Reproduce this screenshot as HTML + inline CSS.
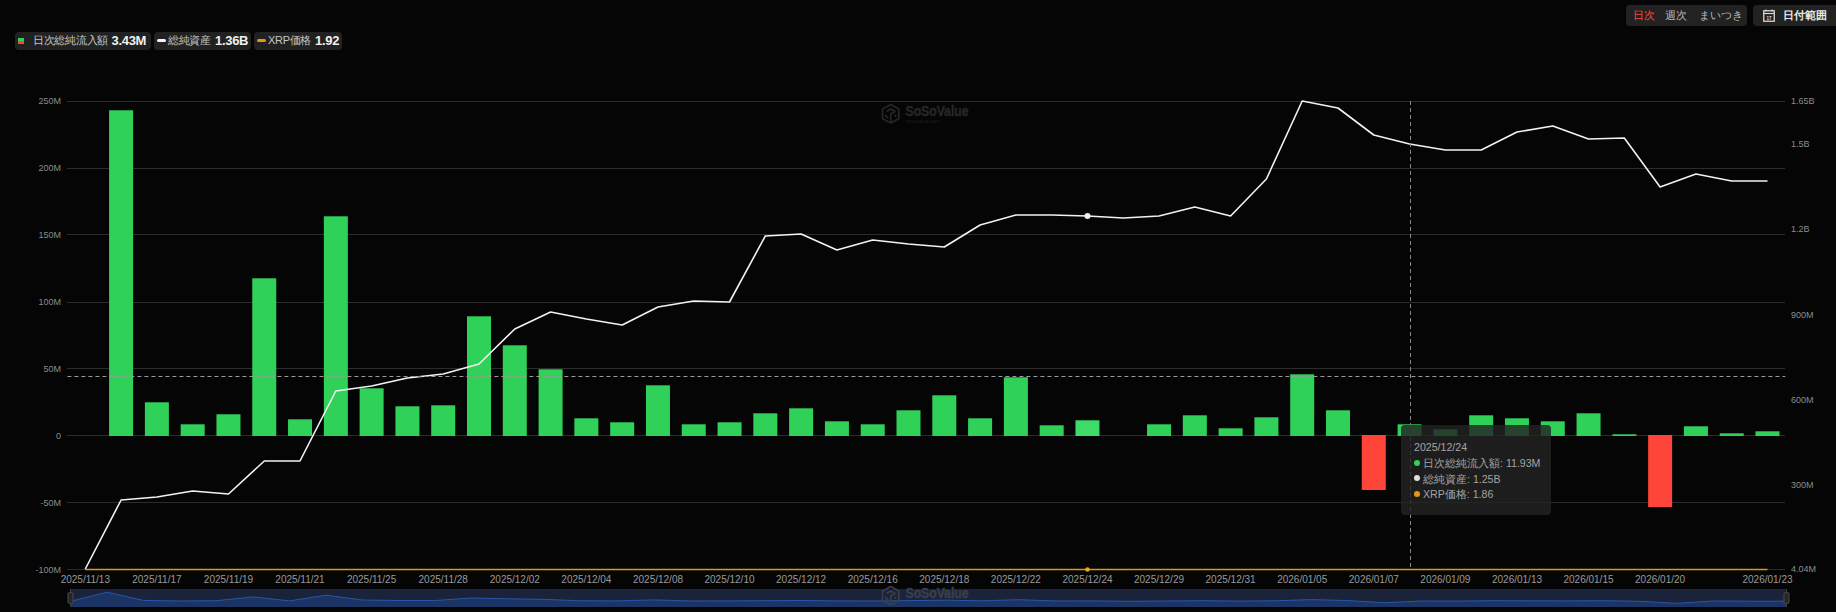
<!DOCTYPE html>
<html><head><meta charset="utf-8">
<style>
html,body{margin:0;padding:0;background:#050505;width:1836px;height:612px;overflow:hidden;position:relative;font-family:"Liberation Sans",sans-serif}
.ax{font-size:9px;fill:#8c8c8c;font-family:"Liberation Sans",sans-serif}
.xl{font-size:10px;fill:#9a9a9a;font-family:"Liberation Sans",sans-serif}
.chip{position:absolute;top:32px;height:18px;background:#212121;border-radius:4px;color:#c4c4c4;font-size:11px;letter-spacing:-0.3px;line-height:17.5px;white-space:nowrap}
.chip b{color:#f0f0f0;font-size:13px;font-weight:bold;position:absolute;top:0;line-height:18px}
.chip span{position:absolute;top:0}
.btn{position:absolute;top:5px;height:21px;background:#222;border-radius:4px;font-size:10.5px;line-height:21px;color:#b8b8b8;white-space:nowrap}
.btn span{position:absolute;top:0}
.tip{position:absolute;left:1401px;top:425px;width:150px;height:89.5px;background:rgba(35,35,35,0.82);border-radius:4px;color:#a4a4a4;font-size:10.6px}
.tip div{position:absolute;white-space:nowrap;line-height:14px}
.dot{position:absolute;width:6px;height:6px;border-radius:3px}
</style></head><body>
<svg width="1836" height="612" viewBox="0 0 1836 612" style="position:absolute;left:0;top:0">
<line x1="67" y1="101.5" x2="1785" y2="101.5" stroke="#2c2c2c" stroke-width="1"/>
<line x1="67" y1="168.5" x2="1785" y2="168.5" stroke="#2c2c2c" stroke-width="1"/>
<line x1="67" y1="234.5" x2="1785" y2="234.5" stroke="#2c2c2c" stroke-width="1"/>
<line x1="67" y1="302.5" x2="1785" y2="302.5" stroke="#2c2c2c" stroke-width="1"/>
<line x1="67" y1="368.5" x2="1785" y2="368.5" stroke="#2c2c2c" stroke-width="1"/>
<line x1="67" y1="435.5" x2="1785" y2="435.5" stroke="#2c2c2c" stroke-width="1"/>
<line x1="67" y1="502.5" x2="1785" y2="502.5" stroke="#2c2c2c" stroke-width="1"/>
<line x1="67" y1="569.5" x2="1785" y2="569.5" stroke="#2c2c2c" stroke-width="1"/>
<text x="61" y="104.3" text-anchor="end" class="ax">250M</text>
<text x="61" y="171.2" text-anchor="end" class="ax">200M</text>
<text x="61" y="238.2" text-anchor="end" class="ax">150M</text>
<text x="61" y="305.1" text-anchor="end" class="ax">100M</text>
<text x="61" y="372.0" text-anchor="end" class="ax">50M</text>
<text x="61" y="438.9" text-anchor="end" class="ax">0</text>
<text x="61" y="505.9" text-anchor="end" class="ax">-50M</text>
<text x="61" y="572.8" text-anchor="end" class="ax">-100M</text>
<text x="1791" y="104.3" class="ax">1.65B</text>
<text x="1791" y="146.9" class="ax">1.5B</text>
<text x="1791" y="232.2" class="ax">1.2B</text>
<text x="1791" y="317.5" class="ax">900M</text>
<text x="1791" y="402.8" class="ax">600M</text>
<text x="1791" y="488.1" class="ax">300M</text>
<text x="1791" y="572.3" class="ax">4.04M</text>
<g fill="none" stroke="#262626" stroke-width="1.7" stroke-linejoin="round"><path d="M890.8 104.5 L898.8 109.1 L898.8 118.7 L890.8 123 L882.5 118.7 L882.5 109.1 Z"/><path d="M886.5 111.5 L890.8 109 L895 111.5 L890.8 114 L890.8 122.5 M886 114.5 L886 116.5 L888.5 118 M895.5 114.5 L895.5 117"/></g>
<text x="905.5" y="116" fill="#262626" stroke="#262626" stroke-width="0.5" textLength="63" lengthAdjust="spacingAndGlyphs" style="font:bold 14px 'Liberation Sans',sans-serif">SoSoValue</text>
<text x="906" y="122.5" fill="#1e1e1e" style="font:5px 'Liberation Sans',sans-serif">sosovalue.com</text>
<rect x="109.09" y="110.3" width="24" height="325.7" fill="#30d158"/>
<rect x="144.88" y="402.3" width="24" height="33.7" fill="#30d158"/>
<rect x="180.67" y="424.3" width="24" height="11.7" fill="#30d158"/>
<rect x="216.46" y="414.3" width="24" height="21.7" fill="#30d158"/>
<rect x="252.25" y="278.3" width="24" height="157.7" fill="#30d158"/>
<rect x="288.05" y="419.3" width="24" height="16.7" fill="#30d158"/>
<rect x="323.84" y="216.3" width="24" height="219.7" fill="#30d158"/>
<rect x="359.63" y="388.3" width="24" height="47.7" fill="#30d158"/>
<rect x="395.42" y="406.3" width="24" height="29.7" fill="#30d158"/>
<rect x="431.21" y="405.3" width="24" height="30.7" fill="#30d158"/>
<rect x="467.00" y="316.3" width="24" height="119.7" fill="#30d158"/>
<rect x="502.80" y="345.3" width="24" height="90.7" fill="#30d158"/>
<rect x="538.59" y="369.3" width="24" height="66.7" fill="#30d158"/>
<rect x="574.38" y="418.3" width="24" height="17.7" fill="#30d158"/>
<rect x="610.17" y="422.3" width="24" height="13.7" fill="#30d158"/>
<rect x="645.96" y="385.3" width="24" height="50.7" fill="#30d158"/>
<rect x="681.75" y="424.3" width="24" height="11.7" fill="#30d158"/>
<rect x="717.55" y="422.3" width="24" height="13.7" fill="#30d158"/>
<rect x="753.34" y="413.3" width="24" height="22.7" fill="#30d158"/>
<rect x="789.13" y="408.3" width="24" height="27.7" fill="#30d158"/>
<rect x="824.92" y="421.3" width="24" height="14.7" fill="#30d158"/>
<rect x="860.71" y="424.3" width="24" height="11.7" fill="#30d158"/>
<rect x="896.50" y="410.3" width="24" height="25.7" fill="#30d158"/>
<rect x="932.30" y="395.3" width="24" height="40.7" fill="#30d158"/>
<rect x="968.09" y="418.3" width="24" height="17.7" fill="#30d158"/>
<rect x="1003.88" y="377.3" width="24" height="58.7" fill="#30d158"/>
<rect x="1039.67" y="425.3" width="24" height="10.7" fill="#30d158"/>
<rect x="1075.46" y="420.3" width="24" height="15.7" fill="#3ddc68"/>
<rect x="1147.05" y="424.3" width="24" height="11.7" fill="#30d158"/>
<rect x="1182.84" y="415.3" width="24" height="20.7" fill="#30d158"/>
<rect x="1218.63" y="428.3" width="24" height="7.7" fill="#30d158"/>
<rect x="1254.42" y="417.3" width="24" height="18.7" fill="#30d158"/>
<rect x="1290.21" y="374.3" width="24" height="61.7" fill="#30d158"/>
<rect x="1326.00" y="410.3" width="24" height="25.7" fill="#30d158"/>
<rect x="1397.59" y="424.3" width="24" height="11.7" fill="#30d158"/>
<rect x="1433.38" y="429.3" width="24" height="6.7" fill="#30d158"/>
<rect x="1469.17" y="415.3" width="24" height="20.7" fill="#30d158"/>
<rect x="1504.96" y="418.3" width="24" height="17.7" fill="#30d158"/>
<rect x="1540.75" y="421.3" width="24" height="14.7" fill="#30d158"/>
<rect x="1576.55" y="413.3" width="24" height="22.7" fill="#30d158"/>
<rect x="1612.34" y="434.3" width="24" height="1.7" fill="#30d158"/>
<rect x="1683.92" y="426.3" width="24" height="9.7" fill="#30d158"/>
<rect x="1719.71" y="433.3" width="24" height="2.7" fill="#30d158"/>
<rect x="1755.50" y="431.3" width="24" height="4.7" fill="#30d158"/>
<rect x="1361.80" y="435" width="24" height="55" fill="#ff453a"/>
<rect x="1648.13" y="435" width="24" height="72" fill="#ff453a"/>
<line x1="85.3" y1="569.5" x2="1767.5" y2="569.5" stroke="#dc9a16" stroke-width="1.6"/>
<polyline points="85.3,569 121.1,500 156.9,497 192.7,491 228.5,494 264.3,461 300.0,461 335.8,391 371.6,386 407.4,378 443.2,374 479.0,364 514.8,329 550.6,312 586.4,319 622.2,325 658.0,307 693.8,301 729.5,302 765.3,236 801.1,234 836.9,250 872.7,240 908.5,244 944.3,247 980.1,225 1015.9,215 1051.7,215 1087.5,216 1123.3,218 1159.0,216 1194.8,207 1230.6,216 1266.4,179 1302.2,101 1338.0,108 1373.8,135 1409.6,144 1445.4,150 1481.2,150 1517.0,132 1552.8,126 1588.5,139 1624.3,138 1660.1,187 1695.9,174 1731.7,181 1767.5,181" fill="none" stroke="#f2f2f2" stroke-width="1.6" stroke-linejoin="round"/>
<circle cx="1087.5" cy="216" r="3" fill="#f2f2f2"/>
<circle cx="1087.5" cy="569.5" r="2.2" fill="#f0a81a"/>
<line x1="67.4" y1="376.5" x2="1785.4" y2="376.5" stroke="#9a9a9a" stroke-width="1" stroke-dasharray="4 3"/>
<line x1="1410.5" y1="101" x2="1410.5" y2="569" stroke="#8a8a8a" stroke-width="1" stroke-dasharray="4 3"/>
<text x="85.3" y="582.5" text-anchor="middle" class="xl">2025/11/13</text>
<text x="156.9" y="582.5" text-anchor="middle" class="xl">2025/11/17</text>
<text x="228.5" y="582.5" text-anchor="middle" class="xl">2025/11/19</text>
<text x="300.0" y="582.5" text-anchor="middle" class="xl">2025/11/21</text>
<text x="371.6" y="582.5" text-anchor="middle" class="xl">2025/11/25</text>
<text x="443.2" y="582.5" text-anchor="middle" class="xl">2025/11/28</text>
<text x="514.8" y="582.5" text-anchor="middle" class="xl">2025/12/02</text>
<text x="586.4" y="582.5" text-anchor="middle" class="xl">2025/12/04</text>
<text x="658.0" y="582.5" text-anchor="middle" class="xl">2025/12/08</text>
<text x="729.5" y="582.5" text-anchor="middle" class="xl">2025/12/10</text>
<text x="801.1" y="582.5" text-anchor="middle" class="xl">2025/12/12</text>
<text x="872.7" y="582.5" text-anchor="middle" class="xl">2025/12/16</text>
<text x="944.3" y="582.5" text-anchor="middle" class="xl">2025/12/18</text>
<text x="1015.9" y="582.5" text-anchor="middle" class="xl">2025/12/22</text>
<text x="1087.5" y="582.5" text-anchor="middle" class="xl">2025/12/24</text>
<text x="1159.0" y="582.5" text-anchor="middle" class="xl">2025/12/29</text>
<text x="1230.6" y="582.5" text-anchor="middle" class="xl">2025/12/31</text>
<text x="1302.2" y="582.5" text-anchor="middle" class="xl">2026/01/05</text>
<text x="1373.8" y="582.5" text-anchor="middle" class="xl">2026/01/07</text>
<text x="1445.4" y="582.5" text-anchor="middle" class="xl">2026/01/09</text>
<text x="1517.0" y="582.5" text-anchor="middle" class="xl">2026/01/13</text>
<text x="1588.5" y="582.5" text-anchor="middle" class="xl">2026/01/15</text>
<text x="1660.1" y="582.5" text-anchor="middle" class="xl">2026/01/20</text>
<text x="1767.5" y="582.5" text-anchor="middle" class="xl">2026/01/23</text>
<rect x="70.5" y="589" width="1715.5" height="18" fill="#1a233a"/>
<path d="M70.5,607 L70.5,601.3 L107.0,592.2 L143.5,600.4 L180.0,601.0 L216.5,600.7 L253.0,596.9 L289.5,600.9 L326.0,595.2 L362.5,600.0 L399.0,600.5 L435.5,600.5 L472.0,598.0 L508.5,598.8 L545.0,599.4 L581.5,600.8 L618.0,600.9 L654.5,599.9 L691.0,601.0 L727.5,600.9 L764.0,600.7 L800.5,600.5 L837.0,600.9 L873.5,601.0 L910.0,600.6 L946.5,600.2 L983.0,600.8 L1019.5,599.7 L1056.0,601.0 L1092.5,600.9 L1129.0,601.3 L1165.5,601.0 L1202.0,600.7 L1238.5,601.1 L1275.0,600.8 L1311.5,599.6 L1348.0,600.6 L1384.5,602.8 L1421.0,601.0 L1457.5,601.1 L1494.0,600.7 L1530.5,600.8 L1567.0,600.9 L1603.5,600.7 L1640.0,601.3 L1676.5,603.3 L1713.0,601.0 L1749.5,601.2 L1786.0,601.2 L1786,607 Z" fill="#1b3463"/>
<polyline points="70.5,601.3 107.0,592.2 143.5,600.4 180.0,601.0 216.5,600.7 253.0,596.9 289.5,600.9 326.0,595.2 362.5,600.0 399.0,600.5 435.5,600.5 472.0,598.0 508.5,598.8 545.0,599.4 581.5,600.8 618.0,600.9 654.5,599.9 691.0,601.0 727.5,600.9 764.0,600.7 800.5,600.5 837.0,600.9 873.5,601.0 910.0,600.6 946.5,600.2 983.0,600.8 1019.5,599.7 1056.0,601.0 1092.5,600.9 1129.0,601.3 1165.5,601.0 1202.0,600.7 1238.5,601.1 1275.0,600.8 1311.5,599.6 1348.0,600.6 1384.5,602.8 1421.0,601.0 1457.5,601.1 1494.0,600.7 1530.5,600.8 1567.0,600.9 1603.5,600.7 1640.0,601.3 1676.5,603.3 1713.0,601.0 1749.5,601.2 1786.0,601.2" fill="none" stroke="#2656aa" stroke-width="1"/>
<line x1="70.5" y1="589" x2="70.5" y2="607" stroke="#3c3c3c" stroke-width="1"/>
<rect x="68" y="592.5" width="5" height="11" rx="1.5" fill="#262626" stroke="#4a4a4a" stroke-width="1"/>
<line x1="1786.5" y1="589" x2="1786.5" y2="607" stroke="#3c3c3c" stroke-width="1"/>
<rect x="1784" y="592.5" width="5" height="11" rx="1.5" fill="#262626" stroke="#4a4a4a" stroke-width="1"/>
<g fill="none" stroke="#3a3e4a" stroke-width="1.7" stroke-linejoin="round"><path d="M890.8 586.5 L898.8 591.1 L898.8 600.7 L890.8 605 L882.5 600.7 L882.5 591.1 Z"/><path d="M886.5 593.5 L890.8 591 L895 593.5 L890.8 596 L890.8 604.5 M886 596.5 L886 598.5 L888.5 600 M895.5 596.5 L895.5 599"/></g>
<text x="905.5" y="597.7" fill="#3a3e4a" stroke="#3a3e4a" stroke-width="0.5" textLength="63" lengthAdjust="spacingAndGlyphs" style="font:bold 14px 'Liberation Sans',sans-serif">SoSoValue</text>
</svg>
<div class="chip" style="left:15px;width:136px">
  <i style="position:absolute;left:3px;top:6px;width:6px;height:3px;background:#30d158"></i><i style="position:absolute;left:3px;top:9px;width:6px;height:3px;background:#ff453a"></i>
  <span style="left:18px">日次総純流入額</span><b style="left:96.5px">3.43M</b>
</div>
<div class="chip" style="left:154px;width:97px">
  <i style="position:absolute;left:3px;top:7px;width:9px;height:3px;border-radius:1.5px;background:#f4f4f4"></i>
  <span style="left:14px">総純資産</span><b style="left:61px">1.36B</b>
</div>
<div class="chip" style="left:254px;width:88px">
  <i style="position:absolute;left:3px;top:7px;width:9px;height:3px;border-radius:1.5px;background:#e29a12"></i>
  <span style="left:14px">XRP価格</span><b style="left:61px">1.92</b>
</div>
<div class="btn" style="left:1626px;width:121px">
  <span style="left:7px;color:#ff453a">日次</span><span style="left:38.5px">週次</span><span style="left:72.5px">まいつき</span>
</div>
<div class="btn" style="left:1753px;width:90px">
  <svg width="12" height="13" viewBox="0 0 12 13" style="position:absolute;left:10px;top:4px"><rect x="0.75" y="1.75" width="10.5" height="10.5" fill="none" stroke="#d8d8d8" stroke-width="1.3"/><line x1="0.75" y1="4.5" x2="11.25" y2="4.5" stroke="#d8d8d8" stroke-width="1.2"/><line x1="3" y1="0.5" x2="3" y2="2.5" stroke="#d8d8d8"/><line x1="9" y1="0.5" x2="9" y2="2.5" stroke="#d8d8d8"/><text x="6" y="10.5" text-anchor="middle" fill="#d8d8d8" style="font:bold 4.5px 'Liberation Sans',sans-serif">17</text></svg>
  <span style="left:30px;color:#e8e8e8;font-weight:bold">日付範囲</span>
</div>
<div class="tip">
  <div style="left:13px;top:15px">2025/12/24</div>
  <i class="dot" style="left:13px;top:34.5px;background:#30d158"></i><div style="left:22px;top:31px">日次総純流入額: 11.93M</div>
  <i class="dot" style="left:13px;top:50px;background:#e0e0e0"></i><div style="left:22px;top:47px">総純資産: 1.25B</div>
  <i class="dot" style="left:13px;top:66px;background:#e29a12"></i><div style="left:22px;top:62px">XRP価格: 1.86</div>
</div>
</body></html>
